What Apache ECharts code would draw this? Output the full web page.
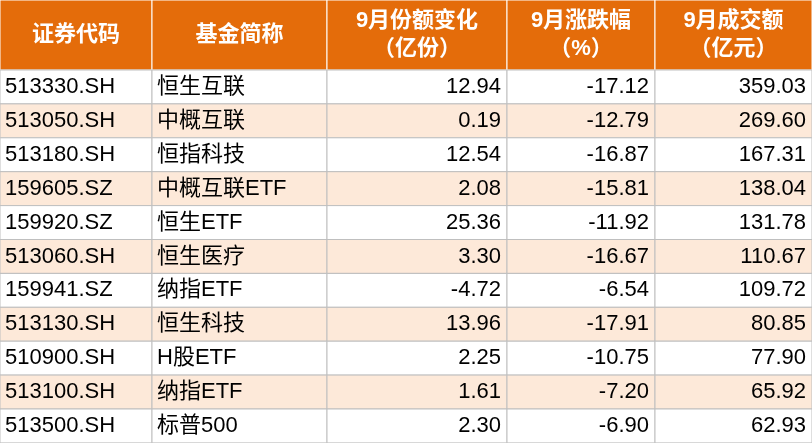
<!DOCTYPE html>
<html><head><meta charset="utf-8">
<script src="https://cdn.jsdelivr.net/npm/echarts@6/dist/echarts.min.js"></script>
<style>html,body{margin:0;padding:0;background:#fff}#c{width:812px;height:443px}</style>
</head><body><div id="c"></div>
<script>
const headers = ["证券代码","基金简称","9月份额变化\n（亿份）","9月涨跌幅\n（%）","9月成交额\n（亿元）"];
const codes = ["513330.SH","513050.SH","513180.SH","159605.SZ","159920.SZ","513060.SH","159941.SZ","513130.SH","510900.SH","513100.SH","513500.SH"];
const names = ["恒生互联","中概互联","恒指科技","中概互联ETF","恒生ETF","恒生医疗","纳指ETF","恒生科技","H股ETF","纳指ETF","标普500"];
const shareChange = ["12.94","0.19","12.54","2.08","25.36","3.30","-4.72","13.96","2.25","1.61","2.30"];
const pctChange = ["-17.12","-12.79","-16.87","-15.81","-11.92","-16.67","-6.54","-17.91","-10.75","-7.20","-6.90"];
const turnover = ["359.03","269.60","167.31","138.04","131.78","110.67","109.72","80.85","77.90","65.92","62.93"];

const colX = [0,152,327,507,655,812];
const headH = 70, rowH = 33.9;
const cells = [];
headers.forEach((h,c)=>cells.push([c,-1,h]));
codes.forEach((_,r)=>{
  [codes[r],names[r],shareChange[r],pctChange[r],turnover[r]].forEach((v,c)=>cells.push([c,r,v]));
});
function renderItem(params, api){
  const c = api.value(0), r = api.value(1), t = cells[params.dataIndex][2];
  const y0 = r<0 ? 0 : headH + r*rowH, y1 = r<0 ? headH : headH+(r+1)*rowH;
  const p0 = api.coord([colX[c], y0]), p1 = api.coord([colX[c+1], y1]);
  const w = p1[0]-p0[0], h = p1[1]-p0[1];
  let fill = r<0 ? '#E46C0A' : (r%2===1 ? '#FDE9D9' : '#ffffff');
  const num = r>=0 && c>=2;
  return {type:'group',children:[
    {type:'rect',shape:{x:p0[0],y:p0[1],width:w,height:h},style:{fill:fill,stroke:r<0?'#ffffff':'#BFBFBF',lineWidth:1}},
    {type:'text',style:{text:t,x: r<0 ? p0[0]+w/2 : (num ? p1[0]-6 : p0[0]+5), y:p0[1]+h/2,
      align: r<0?'center':(num?'right':'left'), verticalAlign:'middle',
      fill: r<0?'#ffffff':'#000000', font: (r<0?'bold ':'')+'22px "Liberation Sans", "Noto Sans CJK SC", sans-serif', lineHeight:28}}
  ]};
}
const chart = echarts.init(document.getElementById('c'));
chart.setOption({
  animation:false,
  grid:{left:0,right:0,top:0,bottom:0},
  xAxis:{type:'value',min:0,max:812,show:false},
  yAxis:{type:'value',min:0,max:443,inverse:true,show:false},
  series:[{type:'custom',renderItem:renderItem,data:cells.map(d=>[d[0],d[1]])}]
});
</script></body></html>
